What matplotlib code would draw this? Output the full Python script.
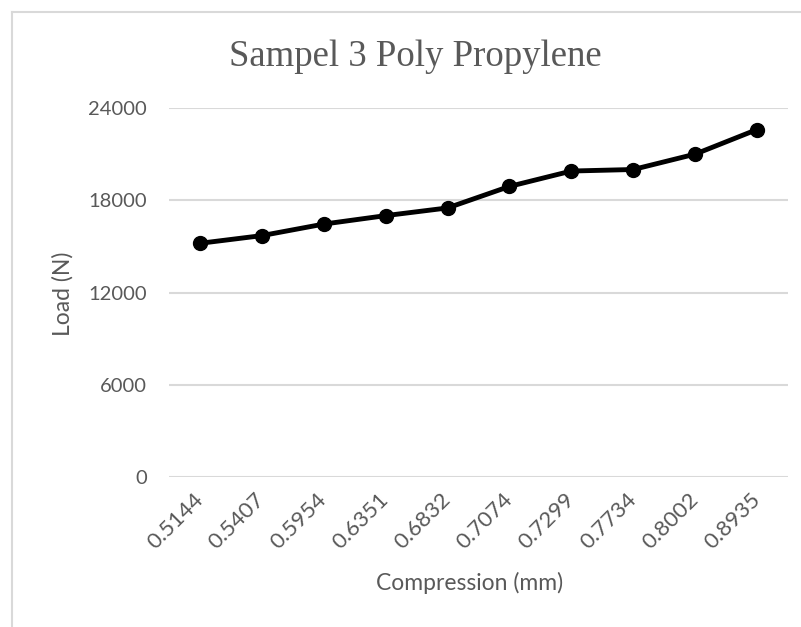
import matplotlib
matplotlib.use("Agg")
import matplotlib.pyplot as plt
from matplotlib.lines import Line2D

# data
compression = ["0.5144", "0.5407", "0.5954", "0.6351", "0.6832",
               "0.7074", "0.7299", "0.7734", "0.8002", "0.8935"]
load = [15200, 15700, 16450, 17000, 17500, 18900, 19900, 20000, 21000, 22600]
yticks = [0, 6000, 12000, 18000, 24000]

txt = "#595959"
grid = "#d9d9d9"
plt.rcParams["font.family"] = ["Lato", "DejaVu Sans"]

fig = plt.figure(figsize=(8.01, 6.27), dpi=100)
ax = fig.add_axes([169 / 801, 1 - 477 / 627, 619 / 801, 369 / 627])

# chart border (only left/top visible in the crop)
fig.add_artist(Line2D([12 / 801, 12 / 801], [0, 1 - 12 / 627], transform=fig.transFigure, color=grid, lw=1.5))
fig.add_artist(Line2D([12 / 801, 1], [1 - 12 / 627, 1 - 12 / 627], transform=fig.transFigure, color=grid, lw=1.5))

x = list(range(len(compression)))
ax.plot(x, load, color="black", lw=3.5, marker="o", markersize=10, zorder=3)

ax.set_xlim(-0.5, len(compression) - 0.5)
ax.set_ylim(0, 24000)
ax.set_yticks(yticks)
ax.set_yticklabels([str(v) for v in yticks])
ax.set_xticks(x)
ax.set_xticklabels(compression, rotation=45, ha="right", va="center", rotation_mode="anchor")
ax.yaxis.grid(True, color=grid, lw=1.5)
ax.set_axisbelow(True)
for s in ax.spines.values():
    s.set_visible(False)
ax.tick_params(axis="y", length=0, pad=16, labelsize=14.5, labelcolor=txt)
ax.tick_params(axis="x", length=0, pad=14, labelsize=16, labelcolor=txt)

ax.set_xlabel("Compression (mm)", fontsize=16.5, color=txt, va="center")
ax.xaxis.set_label_coords(0.486, -0.287)
ax.set_ylabel("Load (N)", fontsize=16.5, color=txt, va="center")
ax.yaxis.set_label_coords(-0.171, 0.496)

fig.text(415 / 801, 1 - 57 / 627, "Sampel 3 Poly Propylene", family="Liberation Serif",
         fontsize=26.5, color=txt, ha="center", va="center")

fig.savefig("out.png", dpi=100)
